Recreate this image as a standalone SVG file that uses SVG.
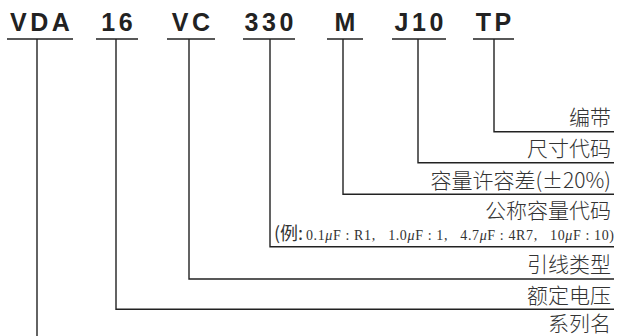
<svg xmlns="http://www.w3.org/2000/svg" width="617" height="336" viewBox="0 0 617 336">
<style>
.code{font-family:"Liberation Sans",Arial,sans-serif;font-weight:bold;font-size:25px;letter-spacing:3.5px;fill:#222;text-anchor:middle}
.lbl{font-family:"Noto Sans CJK SC",sans-serif;font-size:21px;font-weight:300;fill:#333;text-anchor:end}
.ex{font-family:"Liberation Serif","Noto Sans CJK SC",serif;font-size:14px;fill:#333}
.exs{font-family:"Noto Sans CJK SC",sans-serif;font-size:18px;font-weight:400;fill:#333}
.ln{fill:none;stroke:#222;stroke-width:1.4}
</style>
<rect width="617" height="336" fill="#fff"/>
<g id="connectors">
<path class="ln" d="M7 39H73M96 39H138M167 39H215M243 39H295M327 39H363M392 39H446M473 39H514"/>
<path class="ln" d="M494 39V131.7H614"/>
<path class="ln" d="M418 39V162.7H614"/>
<path class="ln" d="M343 39V194.3H614"/>
<path class="ln" d="M270 39V246.7H614"/>
<path class="ln" d="M189 39V279H614"/>
<path class="ln" d="M116 39V309.3H614"/>
<path class="ln" d="M37 39V336"/>
</g>
<g id="code-VDA"><text class="code" x="41.7" y="31">VDA</text></g>
<g id="code-16"><text class="code" x="118.7" y="31">16</text></g>
<g id="code-VC"><text class="code" x="192.7" y="31">VC</text></g>
<g id="code-330"><text class="code" x="270.7" y="31">330</text></g>
<g id="code-M"><text class="code" x="346.7" y="31">M</text></g>
<g id="code-J10"><text class="code" x="420.7" y="31">J10</text></g>
<g id="code-TP"><text class="code" x="495.2" y="31">TP</text></g>
<g id="label-tape"><text class="lbl" x="611" y="125">编带</text></g>
<g id="label-size"><text class="lbl" x="611" y="156">尺寸代码</text></g>
<g id="label-tol"><text class="lbl" x="611" y="187.5">容量许容差(±20%)</text></g>
<g id="label-cap">
<text class="lbl" x="611" y="218">公称容量代码</text>
<text class="exs" x="274" y="239.5">(例:</text>
<text class="ex" x="306" y="239.5" textLength="308" lengthAdjust="spacing" xml:space="preserve">0.1<tspan font-style="italic">μ</tspan>F : R1,   1.0<tspan font-style="italic">μ</tspan>F : 1,   4.7<tspan font-style="italic">μ</tspan>F : 4R7,   10<tspan font-style="italic">μ</tspan>F : 10)</text>
</g>
<g id="label-lead"><text class="lbl" x="611" y="272">引线类型</text></g>
<g id="label-volt"><text class="lbl" x="611" y="302.5">额定电压</text></g>
<g id="label-series"><text class="lbl" x="611" y="330.5">系列名</text></g>
</svg>
